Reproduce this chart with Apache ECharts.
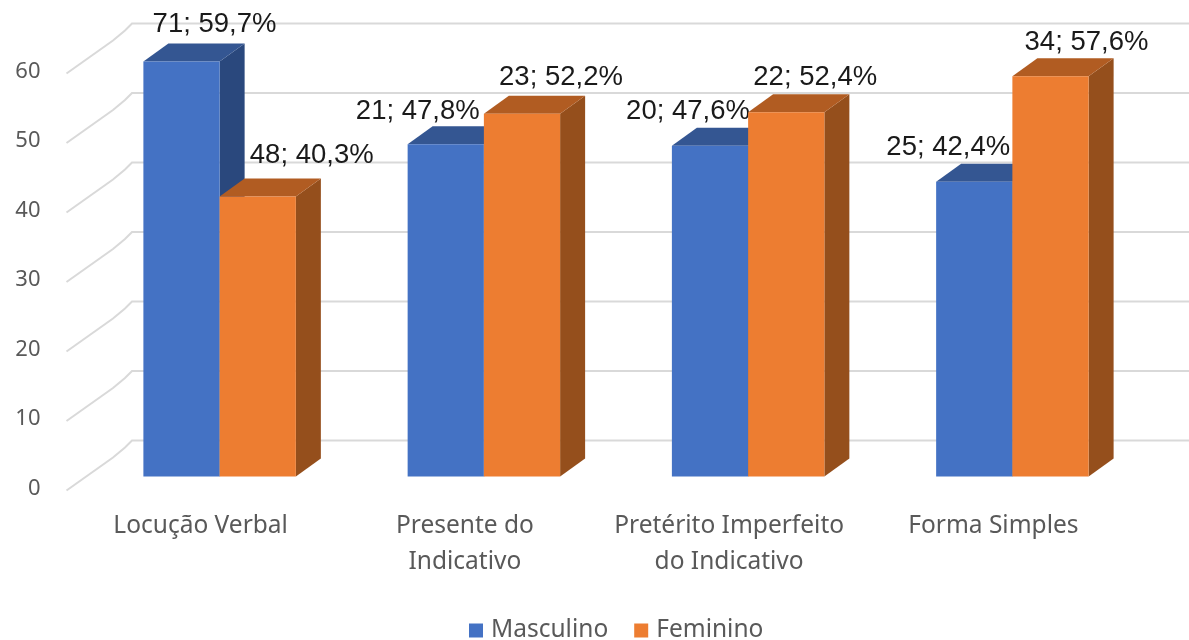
<!DOCTYPE html>
<html>
<head>
<meta charset="utf-8">
<style>html,body{margin:0;padding:0;background:#fff}#c{width:1189px;height:640px;filter:blur(0.6px)}</style>
<script src="https://cdn.jsdelivr.net/npm/echarts@6/dist/echarts.min.js"></script>
</head>
<body>
<div id="c"></div>
<script>
const categories = ['Locução Verbal', 'Presente do\nIndicativo', 'Pretérito Imperfeito\ndo Indicativo', 'Forma Simples'];
const masculinoPercent = [59.7, 47.8, 47.6, 42.4];
const femininoPercent = [40.3, 52.2, 52.4, 57.6];
const masculinoCount = [71, 21, 20, 25];
const femininoCount = [48, 23, 22, 34];
const yTicks = [0, 10, 20, 30, 40, 50, 60];

// label nudges relative to the top of each bar (layout, not data)
const masculinoLabelNudge = [[33, -37], [-28, -33], [-22, -34], [-26, -34]];
const femininoLabelNudge = [[54, -41], [39, -36], [29, -35], [36, -34]];

const FONT = '"Noto Sans", sans-serif';
const GREY = '#595959';
const DEPTH_X = 25, DEPTH_Y = -18, LIFT = -12, BAR_FRAC = 0.2885;

function fmt(count, pct) {
  return count + '; ' + pct.toFixed(1).replace('.', ',') + '%';
}

function barRenderer(side, colors, counts, nudges) {
  return function (params, api) {
    const i = api.value(0);
    const v = api.value(1);
    const top = api.coord([i, v]);
    const base = api.coord([i, 0]);
    const w = api.size([1, 0])[0] * BAR_FRAC;
    const x0 = side < 0 ? top[0] - w : top[0];
    const x1 = x0 + w;
    const yt = top[1] + LIFT;
    const yb = base[1] + LIFT;
    const n = nudges[i];
    return {
      type: 'group',
      children: [
        { type: 'polygon', shape: { points: [[x1, yt], [x1 + DEPTH_X, yt + DEPTH_Y], [x1 + DEPTH_X, yb + DEPTH_Y], [x1, yb]] }, style: { fill: colors.side } },
        { type: 'polygon', shape: { points: [[x0, yt], [x0 + DEPTH_X, yt + DEPTH_Y], [x1 + DEPTH_X, yt + DEPTH_Y], [x1, yt]] }, style: { fill: colors.top } },
        { type: 'rect', shape: { x: x0, y: yt, width: w, height: yb - yt }, style: { fill: colors.front } },
        { type: 'text', z2: 50, style: { x: (x0 + x1) / 2 + n[0], y: yt + n[1], text: fmt(counts[i], v), align: 'center', verticalAlign: 'middle', font: '27.5px "Liberation Sans", Arial, sans-serif', fill: '#1a1a1a' } }
      ]
    };
  };
}

function wallRenderer(params, api) {
  const v = api.value(1);
  const p = api.coord([0, v]);
  const left = params.coordSys.x;
  const y = p[1] + 2;
  return {
    type: 'polyline',
    shape: { points: [[left - 21, y], [left + 25.5, y - 33], [left + 37.5, y - 43], [left + 44.5, y - 50], [api.getWidth(), y - 50]] },
    style: { fill: 'none', stroke: '#d9d9d9', lineWidth: 2 }
  };
}

const chart = echarts.init(document.getElementById('c'), null, { renderer: 'canvas' });
chart.setOption({
  animation: false,
  backgroundColor: '#fff',
  grid: { left: 87.5, width: 1057, top: 71.5, height: 417 },
  legend: {
    data: ['Masculino', 'Feminino'],
    left: 464, top: 613,
    icon: 'rect', itemWidth: 14, itemHeight: 14, itemGap: 26,
    selectedMode: false,
    textStyle: { color: GREY, fontSize: 24.5, fontFamily: FONT, padding: [0, 0, 0, 3] }
  },
  xAxis: {
    type: 'category', data: categories,
    axisLine: { show: false }, axisTick: { show: false },
    axisLabel: { color: GREY, fontSize: 24.5, fontFamily: FONT, lineHeight: 36, margin: 20, padding: [0, 38, 0, 0], interval: 0 }
  },
  yAxis: {
    type: 'value', min: 0, max: 60, interval: 10,
    axisLine: { show: false }, axisTick: { show: false }, splitLine: { show: false },
    axisLabel: { color: GREY, fontSize: 22, fontFamily: FONT, margin: 47, padding: [6, 0, 0, 0] }
  },
  series: [
    { type: 'custom', name: 'wall', silent: true, z: 1, clip: false, renderItem: wallRenderer, encode: { x: 0, y: 1 }, data: yTicks.map(t => [0, t]) },
    { type: 'custom', name: 'Masculino', z: 2, clip: false, itemStyle: { color: '#4472C4' }, encode: { x: 0, y: 1 },
      renderItem: barRenderer(-1, { front: '#4472C4', top: '#345692', side: '#2A487D' }, masculinoCount, masculinoLabelNudge),
      data: masculinoPercent.map((v, i) => [i, v]) },
    { type: 'custom', name: 'Feminino', z: 3, clip: false, itemStyle: { color: '#ED7D31' }, encode: { x: 0, y: 1 },
      renderItem: barRenderer(1, { front: '#ED7D31', top: '#B15C22', side: '#954F1C' }, femininoCount, femininoLabelNudge),
      data: femininoPercent.map((v, i) => [i, v]) }
  ]
});
</script>
</body>
</html>
